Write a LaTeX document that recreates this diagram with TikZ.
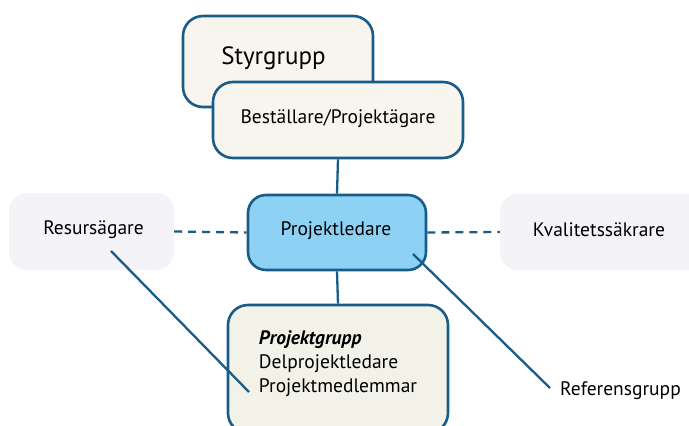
\documentclass[tikz,border=0pt]{standalone}
\usepackage{fontspec}
\setmainfont{PT Sans}
\definecolor{edge}{RGB}{24,92,138}
\definecolor{beige}{RGB}{248,244,238}
\definecolor{skyblue}{RGB}{141,210,245}
\definecolor{lightgrey}{RGB}{243,243,248}
\definecolor{cream}{RGB}{243,242,232}
\tikzset{
  mainbox/.style={draw=edge, line width=2.6pt, rounded corners=20pt, inner sep=0pt},
  sidebox/.style={fill=lightgrey, rounded corners=18pt, inner sep=0pt},
  conn/.style={draw=edge, line width=2.3pt},
  txt/.style={font=\fontsize{19.5}{24}\selectfont, inner sep=0pt},
}
\begin{document}
\begin{tikzpicture}[x=1pt,y=-1pt]
\useasboundingbox (0,0) rectangle (689,426);
\begin{scope}
\clip (0,0) rectangle (689,426);
% Styrgrupp
\node[mainbox, fill=beige, minimum width=190pt, minimum height=91pt] (styr) at (278,61.5) {};
\node[txt, font=\fontsize{25}{30}\selectfont] (styrt) at (273.5,58) {Styrgrupp};
% Beställare
\node[mainbox, fill=beige, minimum width=250pt, minimum height=76pt] (best) at (338,120) {};
\node[txt] (bestt) at (338,119) {Beställare/Projektägare};
% Projektledare
\node[mainbox, fill=skyblue, minimum width=178pt, minimum height=75pt, rounded corners=18pt] (pl) at (337,232.5) {};
\node[txt] (plt) at (336,231) {Projektledare};
% Resursägare
\node[sidebox, minimum width=165pt, minimum height=77pt] (res) at (91.5,231.5) {};
\node[txt] (rest) at (93.5,230) {Resursägare};
% Kvalitetssäkrare
\node[sidebox, minimum width=224pt, minimum height=76pt] (kval) at (612,232) {};
\node[txt] (kvalt) at (599,230) {Kvalitetssäkrare};
% Projektgrupp
\node[mainbox, fill=cream, minimum width=220pt, minimum height=128pt] (pg) at (338,369) {};
\node[txt, align=left] (pgt) at (338,364) {\textbf{\textit{Projektgrupp}}\\Delprojektledare\\Projektmedlemmar};
% Referensgrupp
\node[txt, anchor=west] (ref) at (560,391) {Referensgrupp};
% connectors
\draw[conn] (best.south) -- (pl.north);
\draw[conn] (pl.south) -- (pg.north);
\draw[conn, dashed, dash pattern=on 8pt off 6pt] (res.east) -- (pl.west);
\draw[conn, dashed, dash pattern=on 8pt off 6pt] (pl.east) -- (kval.west);
\coordinate (resend) at (111,251);
\coordinate (pgend) at (249,392);
\coordinate (plend) at (413,254);
\coordinate (refend) at (550,388);
\draw[conn] (resend) -- (pgend);
\draw[conn] (plend) -- (refend);
\end{scope}
\end{tikzpicture}
\end{document}
